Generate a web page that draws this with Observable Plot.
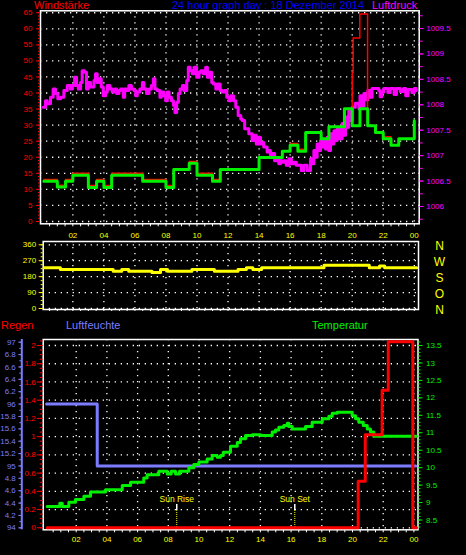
<!DOCTYPE html>
<html><head><meta charset="utf-8">
<script src="https://cdn.jsdelivr.net/npm/d3@7"></script>
<script src="https://cdn.jsdelivr.net/npm/@observablehq/plot@0.6"></script>
<style>
html,body{margin:0;padding:0;background:#000;}
#c{position:relative;width:466px;height:555px;overflow:hidden;background:#000;font-family:"Liberation Sans",Arial,sans-serif;}
#c svg{position:absolute;left:0;top:0;}
.t{position:absolute;font-size:11px;line-height:11px;white-space:nowrap;}
</style></head><body><div id="c"></div>
<script>
// ---------- DATA ----------
const windHours = [0.13,1.0,1.53,2.0,3.0,3.53,4.0,4.5,6.5,8.0,8.5,9.5,10.0,11.0,11.5,14.0,15.5,16.0,16.5,17.0,18.0,18.5,19.5,20.0,20.5,21.0,21.5,22.0,22.5,23.0,24.0];
const windSpeed = [12.5,10.7,12.5,14.4,10.6,12.5,10.6,14.4,12.5,10.6,16.2,18.1,14.4,12.5,16.2,19.9,21.9,23.7,21.9,27.7,25.8,29.5,35.1,29.8,35.1,29.8,27.7,25.8,23.7,25.8,31.4];
const gustHours = [0.13,1.0,1.53,2.0,3.0,3.53,4.0,4.5,6.5,8.0,8.5,9.5,10.0,11.0,11.5,14.0,15.5,16.0,16.5,17.0,18.0,18.5,19.5,20.0,20.06,20.49,20.99,21.5,22.0,22.5,23.0,24.0];
const gustSpeed = [13.1,11.3,13.1,15.0,11.2,13.1,11.2,15.0,13.1,11.2,16.2,18.7,15.0,13.1,16.2,19.9,21.9,24.3,22.5,27.7,25.8,29.5,35.1,46.3,57.1,64.6,29.8,27.7,26.4,23.7,25.8,31.4];
const pressHours = [0.09,0.24,0.35,0.56,0.73,0.88,1.03,1.21,1.42,1.64,1.85,1.96,2.11,2.24,2.35,2.5,2.6,2.75,2.88,2.99,3.14,3.36,3.46,3.57,3.72,3.83,3.96,4.11,4.22,4.39,4.54,4.69,4.82,4.97,5.08,5.25,5.34,5.46,5.61,5.77,5.94,6.05,6.15,6.32,6.48,6.58,6.75,6.91,7.06,7.19,7.29,7.44,7.61,7.7,7.87,7.98,8.09,8.2,8.35,8.48,8.58,8.69,8.8,8.91,9.06,9.16,9.34,9.44,9.55,9.7,9.81,9.98,10.13,10.24,10.41,10.56,10.67,10.82,10.95,11.06,11.21,11.31,11.49,11.64,11.79,11.92,12.07,12.17,12.35,12.5,12.65,12.82,12.91,13.07,13.23,13.34,13.45,13.55,13.66,13.82,13.98,14.09,14.2,14.3,14.41,14.52,14.63,14.73,14.84,15.0,15.17,15.27,15.38,15.48,15.59,15.75,15.92,16.08,16.24,16.4,16.56,16.72,16.88,17.1,17.31,17.42,17.53,17.63,17.74,17.85,17.96,18.06,18.17,18.28,18.39,18.49,18.6,18.71,18.82,18.92,19.03,19.19,19.35,19.46,19.57,19.67,19.78,19.89,20.0,20.2,20.43,20.5,20.6,20.75,20.88,21.0,21.14,21.28,21.71,21.8,21.9,22.03,22.3,22.45,22.7,22.85,23.1,23.3,23.45,23.6,23.85,24.0,24.13];
const pressValues = [1007.95,1008.08,1008.02,1008.15,1008.31,1008.22,1008.12,1008.15,1008.28,1008.38,1008.31,1008.38,1008.54,1008.38,1008.31,1008.44,1008.67,1008.64,1008.31,1008.44,1008.35,1008.48,1008.61,1008.44,1008.51,1008.35,1008.18,1008.25,1008.38,1008.31,1008.25,1008.31,1008.22,1008.28,1008.31,1008.15,1008.31,1008.28,1008.38,1008.31,1008.28,1008.18,1008.25,1008.31,1008.44,1008.31,1008.22,1008.31,1008.38,1008.51,1008.31,1008.28,1008.15,1008.25,1008.18,1008.08,1008.25,1008.15,1008.08,1007.99,1007.85,1008.05,1008.22,1008.31,1008.38,1008.28,1008.48,1008.74,1008.67,1008.61,1008.74,1008.54,1008.64,1008.67,1008.61,1008.74,1008.54,1008.64,1008.44,1008.41,1008.31,1008.41,1008.28,1008.25,1008.28,1008.15,1008.08,1008.18,1008.08,1007.95,1007.79,1007.72,1007.69,1007.53,1007.53,1007.43,1007.43,1007.30,1007.40,1007.23,1007.36,1007.23,1007.26,1007.17,1007.17,1007.07,1007.10,1007.00,1007.04,1006.90,1006.94,1006.84,1006.90,1006.87,1006.90,1006.81,1006.94,1006.84,1006.87,1006.81,1006.81,1006.71,1006.81,1006.71,1006.94,1006.84,1007.10,1006.97,1007.23,1007.10,1007.30,1007.17,1007.30,1007.13,1007.36,1007.10,1007.43,1007.23,1007.49,1007.30,1007.53,1007.33,1007.63,1007.40,1007.76,1007.56,1007.89,1007.69,1007.95,1008.03,1007.92,1008.18,1007.97,1008.22,1008.10,1008.28,1008.15,1008.32,1008.28,1008.16,1008.25,1008.32,1008.24,1008.32,1008.20,1008.32,1008.26,1008.32,1008.18,1008.30,1008.24,1008.32,1008.28];
const dirHours = [0.15,1.2,4.6,5.15,5.6,7.1,7.65,8.1,9.67,11.12,12.64,13.18,13.6,14.16,18.18,21.1,21.76,22.09,24.15];
const dirValues = [230,220,210,220,210,203,220,210,220,210,220,230,220,230,244,230,240,230,230];
const humHours = [0.07,3.37,24.12];
const humValues = [96,95,95];
const rainHours = [0.11,20.37,20.83,21.93,22.33,23.93,24.17];
const rainValues = [0,0.51,1.02,1.51,2.04,0,0];
const tempHours = [0.11,0.93,1.09,1.52,1.95,2.5,2.93,3.91,5.0,5.54,6.4,6.62,7.38,7.93,8.19,8.47,8.73,9.34,9.66,9.99,10.53,10.86,11.18,11.4,11.58,12.05,12.49,12.7,13.03,13.47,14.01,14.77,14.98,15.2,15.52,15.75,15.85,16.07,16.94,17.37,18.03,18.46,18.68,19.0,19.98,20.2,20.41,20.7,20.96,21.17,21.39,24.17];
const tempValues = [8.89,8.98,8.89,9.01,9.09,9.18,9.30,9.37,9.49,9.58,9.70,9.80,9.90,9.82,9.90,9.82,9.90,10.0,10.09,10.16,10.25,10.35,10.30,10.35,10.44,10.61,10.72,10.83,10.92,10.94,10.92,11.02,11.08,11.16,11.21,11.27,11.18,11.11,11.18,11.30,11.40,11.47,11.56,11.59,11.49,11.40,11.30,11.21,11.11,11.02,10.90,10.90];
const sunHours = [8.55,16.24];
const sunLabels = ["Sun Rise","Sun Set"];
// tick labels
const hourLabels = [2,4,6,8,10,12,14,16,18,20,22,24];
const windTicks = [0,5,10,15,20,25,30,35,40,45,50,55,60,65];
const pressTicks = [1006,1006.5,1007,1007.5,1008,1008.5,1009,1009.5];
const dirTicks = [0,90,180,270,360];
const dirLetterValues = [360,270,180,90,0];
const dirLetters = ["N","W","S","O","N"];
const rainTicks = [0,0.2,0.4,0.6,0.8,1,1.2,1.4,1.6,1.8,2];
const humTicks = [97,96.8,96.6,96.4,96.2,96,95.8,95.6,95.4,95.2,95,94.8,94.6,94.4,94.2,94];
const humTickLabels = ["97","6.8","6.6","6.4","6.2","96","15.8","15.6","15.4","15.2","95","4.8","4.6","4.4","4.2","94"];
const tempTicks = [8.5,9,9.5,10,10.5,11,11.5,12,12.5,13,13.5];

// ---------- LAYOUT ----------
const RED="#ff0000", GRN="#00f000", MAG="#ff00ff", YEL="#ffff00", HUM="#7c7cff", BLU="#0000ff";
const FONT="'Liberation Sans', Arial, sans-serif";
const W=466, H=555;
const C=document.getElementById("c");
function opts(fr, xd, yd){
  return {width:W,height:H,marginLeft:fr.l,marginRight:W-fr.r,marginTop:fr.t,marginBottom:H-fr.b,
    x:{domain:xd,axis:null,label:null}, y:{domain:yd,axis:null,label:null},
    style:`background:transparent;font-family:${FONT};font-size:8px;overflow:visible;max-width:none;`};
}
function add(p){C.appendChild(p);}
function txt(s,color,left,top){const d=document.createElement("div");d.className="t";d.textContent=s;d.style.color=color;d.style.left=left+"px";d.style.top=top+"px";C.appendChild(d);}
const rows=(xs,ys)=>xs.map((h,i)=>({h,v:ys[i]}));
const fmtHour=d=>String(d%24).padStart(2,"0");
const dots={stroke:"white",strokeOpacity:1,strokeWidth:1.3,strokeDasharray:"1.3,4.7"};
const gridHours=d3.range(2,25,2);
const halfHours=d3.range(0.5,24.01,0.5);
const noText={fill:"none",tickFormat:()=>""};

txt("Windstärke",RED,34,0.2);
txt("24 hour graph day : 18 Dezember 2014",BLU,172,0.2);
txt("Luftdruck",MAG,372,0.2);
txt("Regen",RED,1,320.4);
txt("Luftfeuchte",HUM,66,320.4);
txt("Temperatur",GRN,312,320.4);

// ---- top panel ----
const topFr={l:40,r:418.7,t:10.3,b:223.3};
const topX=[-0.084,24.317];
const windY=[-0.72,65.6];
const pressY=[1005.66,1009.848];
add(Plot.plot({...opts(topFr,topX,windY),marks:[
  Plot.gridY(windTicks,dots),
  Plot.gridX(gridHours,dots),
  Plot.frame({stroke:"white",strokeWidth:1.5}),
  Plot.axisY(windTicks,{anchor:"left",tickSize:4,tickPadding:4,color:RED,fontSize:8}),
  Plot.axisY(d3.range(0,66,1),{anchor:"left",tickSize:2,color:RED,...noText}),
  Plot.axisX(halfHours,{anchor:"bottom",tickSize:3,color:"white",...noText}),
  Plot.axisX(hourLabels,{anchor:"bottom",tickSize:0,tickPadding:9,color:YEL,fontSize:8,tickFormat:fmtHour})
]}));
add(Plot.plot({...opts(topFr,topX,pressY),marks:[
  Plot.line(rows(pressHours,pressValues),{x:"h",y:"v",stroke:MAG,strokeWidth:3,curve:"step-after"}),
  Plot.axisY(pressTicks,{anchor:"right",tickSize:4,tickPadding:3,color:MAG,fontSize:8,tickFormat:d=>String(d)}),
  Plot.axisY(d3.range(1005.75,1009.76,0.25),{anchor:"right",tickSize:3,color:MAG,...noText})
]}));
add(Plot.plot({...opts(topFr,topX,windY),marks:[
  Plot.line(rows(gustHours,gustSpeed),{x:"h",y:"v",stroke:RED,strokeWidth:1.5,curve:"step-after"}),
  Plot.line(rows(windHours,windSpeed),{x:"h",y:"v",stroke:GRN,strokeWidth:3,curve:"step-after"})
]}));

// ---- direction panel ----
const dirFr={l:42.7,r:418,t:241,b:309};
add(Plot.plot({...opts(dirFr,[0.09,24.27],[-5.6,378.6]),marks:[
  Plot.gridY(dirTicks,dots),
  Plot.gridX(gridHours,dots),
  Plot.frame({stroke:"white",strokeWidth:1.5}),
  Plot.axisY(dirTicks,{anchor:"left",tickSize:4,tickPadding:3,color:YEL,fontSize:8}),
  Plot.axisY(d3.range(0,361,22.5),{anchor:"left",tickSize:2,color:YEL,...noText}),
  Plot.axisX(halfHours,{anchor:"bottom",tickSize:2,color:"white",...noText}),
  Plot.line(rows(dirHours,dirValues),{x:"h",y:"v",stroke:YEL,strokeWidth:3,curve:"step-after"}),
  Plot.text(dirLetters.map((l,i)=>({l,v:dirLetterValues[i]})),{y:"v",text:"l",frameAnchor:"right",dx:21,dy:1.5,fill:YEL,fontSize:12,textAnchor:"middle"})
]}));

// ---- bottom panel ----
const botFr={l:42.7,r:417.5,t:339,b:529.3};
const botX=[-0.15,24.267];
const rainY=[-0.022,2.066];
add(Plot.plot({...opts(botFr,botX,rainY),marks:[
  Plot.gridY(rainTicks,dots),
  Plot.gridX(gridHours,dots),
  Plot.frame({stroke:"white",strokeWidth:1.5}),
  Plot.axisY(rainTicks,{anchor:"left",tickSize:6,tickPadding:1.5,color:RED,fontSize:8,tickFormat:d=>String(+d.toFixed(1))}),
  Plot.axisY(d3.range(0,2.051,0.05),{anchor:"left",tickSize:3,color:RED,...noText}),
  Plot.axisX(halfHours,{anchor:"bottom",tickSize:3,color:"white",...noText}),
  Plot.axisX(hourLabels,{anchor:"bottom",tickSize:0,tickPadding:6.7,color:YEL,fontSize:8,tickFormat:fmtHour}),
  Plot.ruleX(sunHours,{y1:()=>0.256,y2:()=>0.19,stroke:"white",strokeWidth:1.5}),
  Plot.ruleX(sunHours,{y1:()=>0.19,y2:()=>-0.022,stroke:YEL,strokeWidth:1,strokeDasharray:"1,1"}),
  Plot.text(sunHours.map((h,i)=>({h,l:sunLabels[i]})),{x:"h",y:()=>0.281,text:"l",fill:YEL,fontSize:8.5,lineAnchor:"bottom",textAnchor:"middle"})
]}));
const humFr={l:21.3,r:417.5,t:339,b:529.3};
add(Plot.plot({...opts(humFr,[-1.544,24.267],[93.968,97.044]),marks:[
  Plot.ruleX([-1.544],{stroke:HUM,strokeWidth:2}),
  Plot.axisY(humTicks,{anchor:"left",tickSize:3,tickPadding:3,color:HUM,fontSize:8,tickFormat:(d,i)=>humTickLabels[humTicks.indexOf(d)]}),
  Plot.axisY(d3.range(94,97.01,0.1),{anchor:"left",tickSize:2,color:HUM,...noText}),
  Plot.line(rows(humHours,humValues),{x:"h",y:"v",stroke:HUM,strokeWidth:3,curve:"step-after"})
]}));
add(Plot.plot({...opts(botFr,botX,[8.219,13.672]),marks:[
  Plot.axisY(tempTicks,{anchor:"right",tickSize:4,tickPadding:4,color:GRN,fontSize:8,tickFormat:d=>String(d)}),
  Plot.axisY(d3.range(8.3,13.61,0.1),{anchor:"right",tickSize:2,color:GRN,...noText}),
  Plot.line(rows(tempHours,tempValues),{x:"h",y:"v",stroke:GRN,strokeWidth:3,curve:"step-after"})
]}));
add(Plot.plot({...opts(botFr,botX,rainY),marks:[
  Plot.line(rows(rainHours,rainValues),{x:"h",y:"v",stroke:RED,strokeWidth:3,curve:"step-after"})
]}));
</script></body></html>
